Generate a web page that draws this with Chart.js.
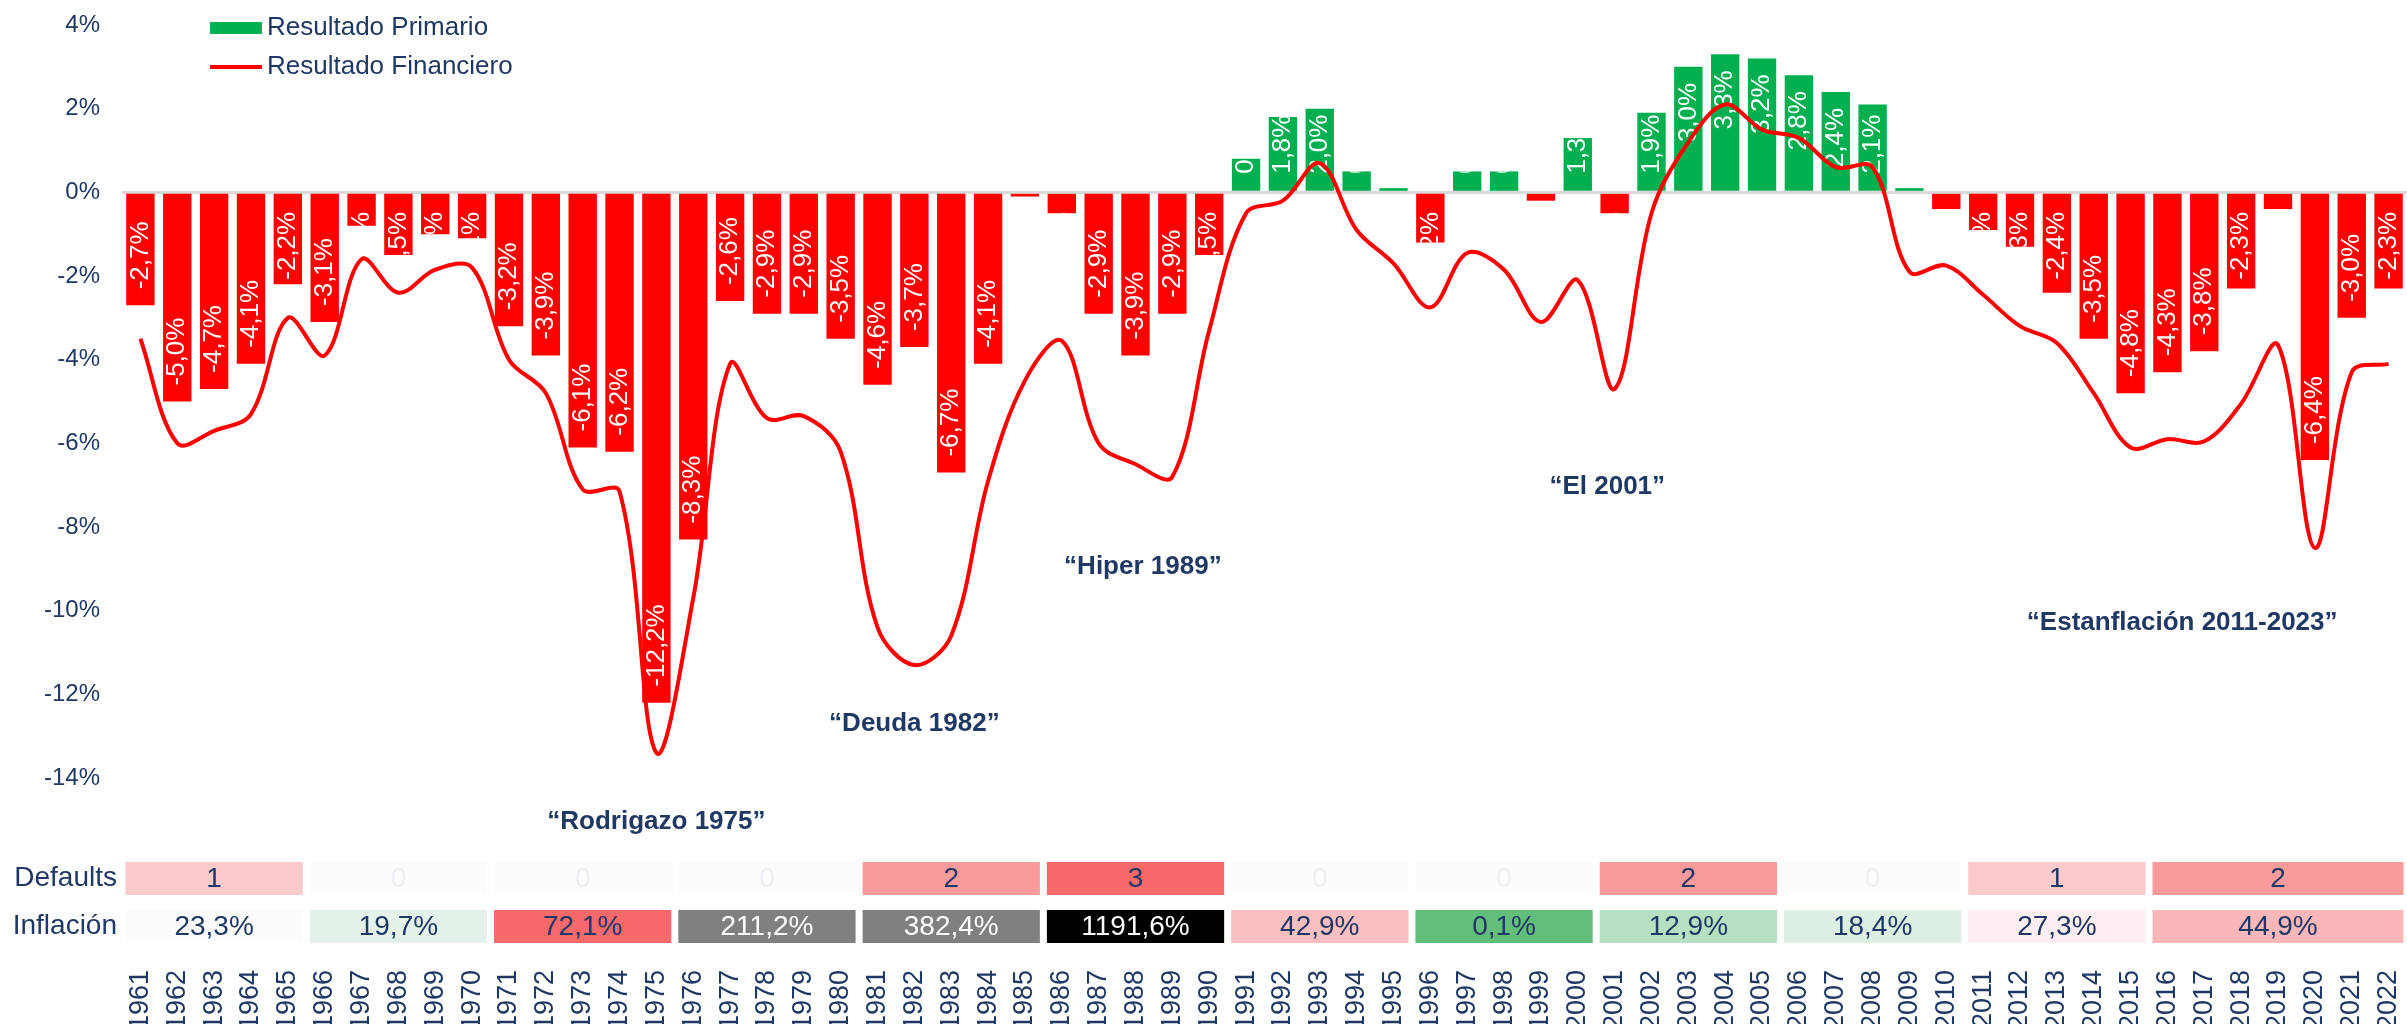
<!DOCTYPE html>
<html lang="es">
<head>
<meta charset="utf-8">
<title>Resultado primario y financiero 1961-2022</title>
<script src="https://cdn.jsdelivr.net/npm/chart.js@4.4.1/dist/chart.umd.min.js"></script>
<style>
  html, body { margin: 0; padding: 0; background: #ffffff; }
  canvas { display: block; }
</style>
</head>
<body>
<canvas id="fiscalChart" width="2407" height="1024"></canvas>
<script>
// Years on the x axis
const years = [
  '1961', '1962', '1963', '1964', '1965', '1966', '1967', '1968', '1969', '1970',
  '1971', '1972', '1973', '1974', '1975', '1976', '1977', '1978', '1979', '1980',
  '1981', '1982', '1983', '1984', '1985', '1986', '1987', '1988', '1989', '1990',
  '1991', '1992', '1993', '1994', '1995', '1996', '1997', '1998', '1999', '2000',
  '2001', '2002', '2003', '2004', '2005', '2006', '2007', '2008', '2009', '2010',
  '2011', '2012', '2013', '2014', '2015', '2016', '2017', '2018', '2019', '2020',
  '2021', '2022'
];

// Resultado primario (% del PBI), bars
const resultadoPrimario = [
  -2.7, -5.0, -4.7, -4.1, -2.2, -3.1, -0.8, -1.5, -1.0, -1.1,
  -3.2, -3.9, -6.1, -6.2, -12.2, -8.3, -2.6, -2.9, -2.9, -3.5,
  -4.6, -3.7, -6.7, -4.1, -0.1, -0.5, -2.9, -3.9, -2.9, -1.5,
  0.8, 1.8, 2.0, 0.5, 0.1, -1.2, 0.5, 0.5, -0.2, 1.3,
  -0.5, 1.9, 3.0, 3.3, 3.2, 2.8, 2.4, 2.1, 0.1, -0.4,
  -0.9, -1.3, -2.4, -3.5, -4.8, -4.3, -3.8, -2.3, -0.4, -6.4,
  -3.0, -2.3
];

// Resultado financiero (% del PBI), line
const resultadoFinanciero = [
  -3.5, -6.0, -5.7, -5.3, -3.0, -3.9, -1.6, -2.4, -1.85, -1.8,
  -4.0, -4.8, -7.1, -7.15, -13.4, -9.7, -4.1, -5.4, -5.35, -6.2,
  -10.4, -11.3, -10.6, -6.9, -4.5, -3.55, -6.0, -6.5, -6.8, -3.3,
  -0.5, -0.2, 0.7, -0.9, -1.7, -2.75, -1.45, -1.85, -3.1, -2.1,
  -4.7, -0.5, 1.2, 2.1, 1.5, 1.3, 0.6, 0.6, -1.9, -1.75,
  -2.45, -3.2, -3.6, -4.8, -6.1, -5.9, -5.95, -5.05, -3.65, -8.5,
  -4.3, -4.1
];

// Table under the chart: one cell per period
const periodFrom = ['1961', '1966', '1971', '1976', '1981', '1986', '1991', '1996', '2001', '2006', '2011', '2016'];
const periodTo   = ['1965', '1970', '1975', '1980', '1985', '1990', '1995', '2000', '2005', '2010', '2015', '2022'];
const defaults   = [1, 0, 0, 0, 2, 3, 0, 0, 2, 0, 1, 2];
const inflacion  = [23.3, 19.7, 72.1, 211.2, 382.4, 1191.6, 42.9, 0.1, 12.9, 18.4, 27.3, 44.9];

// Event notes, anchored on the year axis and on the % axis
const eventLabels = ['“Rodrigazo 1975”', '“Deuda 1982”', '“Hiper 1989”', '“El 2001”', '“Estanflación 2011-2023”'];
const eventYear   = [1975, 1982, 1988.2, 2000.8, 2016.4];
const eventLevel  = [-15.05, -12.7, -8.95, -7.05, -10.3];

// Styles
const navy = '#1F3864';
const green = '#00B050';
const red = '#FF0000';
const fontFamily = '"Liberation Sans", Arial, Helvetica, sans-serif';
const defaultFill = ['#FCFCFF', '#FBCACD', '#F99A9C', '#F8696B'];
const inflacionFill = ['#FCFCFF', '#E4F2E9', '#F8696B', '#808080', '#808080', '#000000',
                       '#FBBFC2', '#63BE7B', '#B6E0C2', '#DCEFE3', '#FCEEF1', '#FAB7BA'];
const inflacionInk = [navy, navy, navy, '#FFFFFF', '#FFFFFF', '#FFFFFF', navy, navy, navy, navy, navy, navy];

function pct(v) {
    return v.toFixed(1).replace('.', ',') + '%';
}

// White value labels written inside the bars, rotated
const barLabels = {
    id: 'barLabels',
    afterDatasetDraw(chart, args) {
        if (args.index !== 1) return;
        const ctx = chart.ctx;
        ctx.save();
        ctx.font = '26px ' + fontFamily;
        ctx.fillStyle = '#FFFFFF';
        ctx.textAlign = 'left';
        ctx.textBaseline = 'middle';
        args.meta.data.forEach((bar, i) => {
            const v = resultadoPrimario[i];
            const p = bar.getProps(['x', 'y', 'base', 'width'], true);
            const txt = pct(v);
            const len = ctx.measureText(txt).width;
            let top;
            if (v < 0) {
                top = Math.max(p.base + 18, p.y - 16 - len);
            } else {
                top = Math.min(p.y + 16, p.base - 17 - len);
            }
            ctx.save();
            ctx.beginPath();
            ctx.rect(p.x - p.width / 2, Math.min(p.y, p.base), p.width, Math.abs(p.base - p.y));
            ctx.clip();
            ctx.translate(p.x, top + len);
            ctx.rotate(-Math.PI / 2);
            ctx.fillText(txt, 0, 0);
            ctx.restore();
        });
        ctx.restore();
    }
};

// Legend, event notes and the Defaults / Inflación table
const extras = {
    id: 'extras',
    afterDraw(chart) {
        const ctx = chart.ctx;
        const xs = chart.scales.x;
        const ys = chart.scales.y;
        const half = (xs.getPixelForValue(1) - xs.getPixelForValue(0)) / 2;

        ctx.save();

        // legend
        ctx.fillStyle = green;
        ctx.fillRect(210, 22, 52, 12);
        ctx.strokeStyle = red;
        ctx.lineWidth = 4;
        ctx.beginPath();
        ctx.moveTo(210, 67);
        ctx.lineTo(262, 67);
        ctx.stroke();
        ctx.font = '26px ' + fontFamily;
        ctx.fillStyle = navy;
        ctx.textAlign = 'left';
        ctx.textBaseline = 'middle';
        ctx.fillText('Resultado Primario', 267, 28);
        ctx.fillText('Resultado Financiero', 267, 67);

        // event notes
        ctx.font = 'bold 26px ' + fontFamily;
        ctx.textAlign = 'center';
        eventLabels.forEach((t, k) => {
            const px = xs.getPixelForValue(eventYear[k] - 1961);
            const py = ys.getPixelForValue(eventLevel[k]);
            ctx.fillText(t, px, py);
        });

        // table
        const rowDef = { top: 862, h: 33 };
        const rowInf = { top: 910, h: 33 };
        ctx.font = '28px ' + fontFamily;
        ctx.textAlign = 'right';
        ctx.fillStyle = navy;
        ctx.fillText('Defaults', 117, rowDef.top + rowDef.h / 2);
        ctx.fillText('Inflación', 117, rowInf.top + rowInf.h / 2);

        ctx.textAlign = 'center';
        periodFrom.forEach((from, k) => {
            const left = xs.getPixelForValue(years.indexOf(from)) - half + 3.5;
            const right = Math.min(xs.getPixelForValue(years.indexOf(periodTo[k])) + half - 3.5, chart.width);
            const w = right - left;
            const cx = left + w / 2;

            ctx.fillStyle = defaultFill[defaults[k]];
            ctx.fillRect(left, rowDef.top, w, rowDef.h);
            ctx.fillStyle = defaults[k] === 0 ? '#EEEEF4' : navy;
            ctx.fillText(String(defaults[k]), cx, rowDef.top + rowDef.h / 2 + 1);

            ctx.fillStyle = inflacionFill[k];
            ctx.fillRect(left, rowInf.top, w, rowInf.h);
            ctx.fillStyle = inflacionInk[k];
            ctx.fillText(pct(inflacion[k]), cx, rowInf.top + rowInf.h / 2 + 1);
        });

        ctx.restore();
    }
};

const fiscalCtx = document.getElementById('fiscalChart').getContext('2d');
const fiscalChart = new Chart(fiscalCtx, {
    type: 'bar',
    data: {
        labels: years,
        datasets: [{
            type: 'line',
            label: 'Resultado Financiero',
            data: resultadoFinanciero,
            borderColor: red,
            backgroundColor: red,
            borderWidth: 4,
            pointRadius: 0,
            tension: 0.35,
            fill: false,
            order: 0
        }, {
            type: 'bar',
            label: 'Resultado Primario',
            data: resultadoPrimario,
            backgroundColor: resultadoPrimario.map(v => v >= 0 ? green : red),
            borderWidth: 0,
            categoryPercentage: 1,
            barPercentage: 0.77,
            order: 1
        }]
    },
    options: {
        responsive: false,
        animation: false,
        layout: {
            padding: { top: 25, left: 0, right: 0, bottom: 0 }
        },
        plugins: {
            legend: { display: false },
            tooltip: { enabled: false },
            title: { display: false }
        },
        scales: {
            x: {
                grid: { display: false },
                border: { display: false },
                ticks: {
                    autoSkip: false,
                    minRotation: 90,
                    maxRotation: 90,
                    padding: 184,
                    color: navy,
                    font: { family: fontFamily, size: 27 }
                },
                afterFit(scale) {
                    scale.height = 246;
                    scale.paddingLeft = 0;
                    scale.paddingRight = 0;
                }
            },
            y: {
                min: -14,
                max: 4,
                border: { display: false },
                grid: {
                    drawTicks: false,
                    lineWidth: 3,
                    color: ctx => ctx.tick && ctx.tick.value === 0 ? '#D9D9D9' : 'rgba(0,0,0,0)'
                },
                ticks: {
                    stepSize: 2,
                    padding: 22,
                    color: navy,
                    font: { family: fontFamily, size: 24 },
                    callback: v => v + '%'
                },
                afterFit(scale) {
                    scale.width = 122;
                    scale.paddingTop = 0;
                    scale.paddingBottom = 0;
                }
            }
        }
    },
    plugins: [barLabels, extras]
});
</script>
</body>
</html>
